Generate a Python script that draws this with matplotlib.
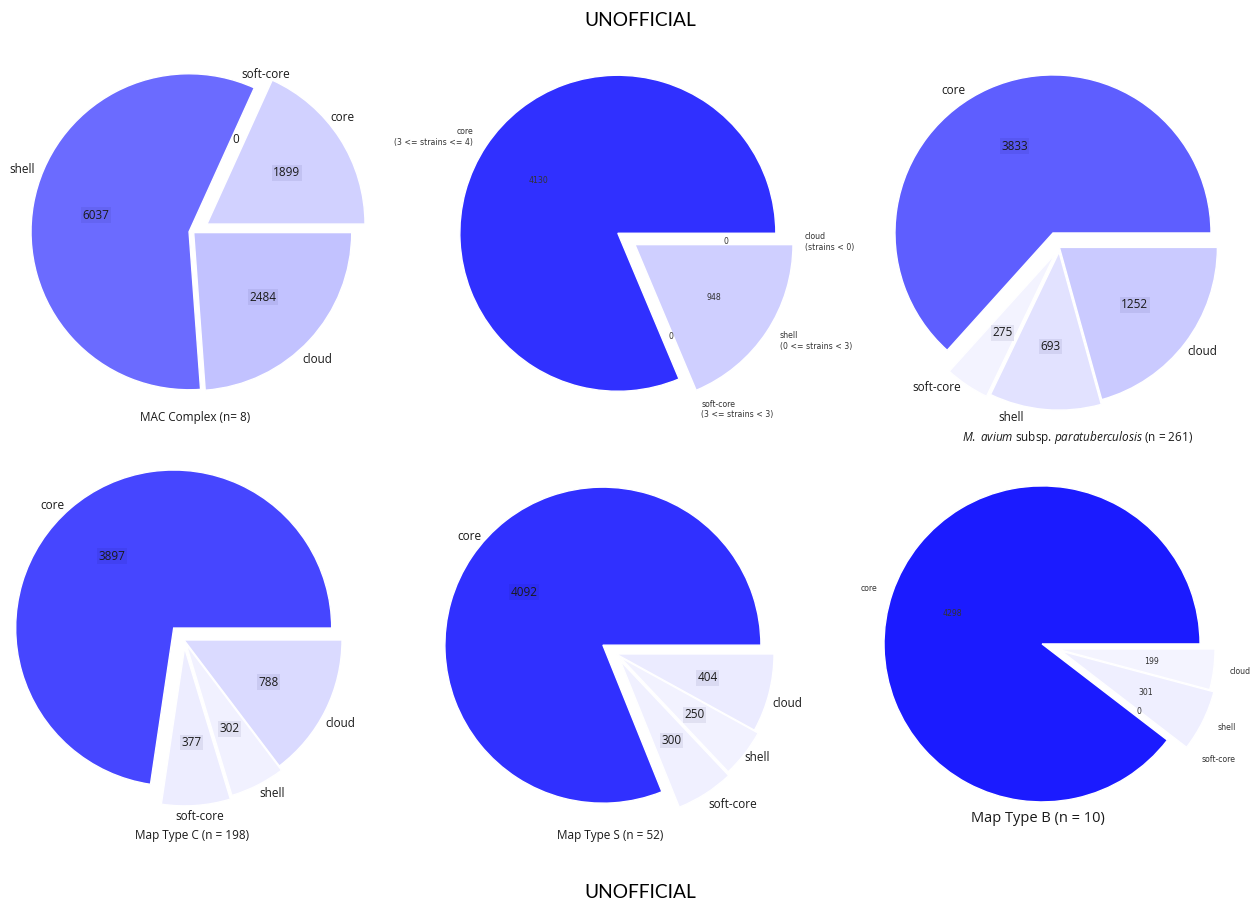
import math
import matplotlib
matplotlib.use("Agg")
import matplotlib.pyplot as plt

# ---- data -------------------------------------------------------------
categories = ["core", "soft-core", "shell", "cloud"]
range_notes = ["(3 <= strains <= 4)", "(3 <= strains < 3)",
               "(0 <= strains < 3)", "(strains < 0)"]

mac_complex = [1899, 0, 6037, 2484]
mac_small = [4130, 0, 948, 0]
map_paratb = [3833, 275, 693, 1252]
map_type_c = [3897, 377, 302, 788]
map_type_s = [4092, 300, 250, 404]
map_type_b = [4298, 0, 301, 199]

title_mac = "MAC Complex (n= 8)"
title_paratb = r"$M.$ $avium$ subsp. $paratuberculosis$ (n = 261)"
title_c = "Map Type C (n = 198)"
title_s = "Map Type S (n = 52)"
title_b = "Map Type B (n = 10)"
banner = "UNOFFICIAL"

# ---- styling ----------------------------------------------------------
W, H = 1260, 901
RADIUS_PX = 158
EXPLODE = [0.1, 0.05, 0.03, 0.0]
SANS = "Open Sans"
INK = "#1a1a1a"
plt.rcParams["mathtext.fontset"] = "custom"
plt.rcParams["mathtext.rm"] = SANS
plt.rcParams["mathtext.it"] = SANS + ":italic"

fig = plt.figure(figsize=(W / 100, H / 100), dpi=100, facecolor="white")


def shade(values):
    total = float(sum(values))
    return [(1 - v / total, 1 - v / total, 1.0) for v in values]


def count_fmt(values):
    total = float(sum(values))
    return lambda p: f"{int(round(p * total / 100))}"


def pie_axes(cx, cy, half=260):
    ax = fig.add_axes([(cx - half) / W, 1 - (cy + half) / H,
                       2 * half / W, 2 * half / H])
    ax.patch.set_visible(False)
    return ax, half / RADIUS_PX


def draw_pie(ax, lim, values, labels, font, size, color, boxed=False,
             label_layout=None):
    colors = shade(values)
    wedges, texts, autotexts = ax.pie(
        values, labels=labels, colors=colors, explode=EXPLODE,
        autopct=count_fmt(values), pctdistance=0.6, labeldistance=1.1,
        startangle=0, counterclock=True,
        wedgeprops=dict(edgecolor="white", linewidth=1.0),
        textprops=dict(fontfamily=font, fontsize=size, color=color))
    if label_layout is not None:
        # centred labels, each turned a little around its wedge
        for w, t, (turn, dist) in zip(wedges, texts, label_layout):
            ang = math.radians((w.theta1 + w.theta2) / 2 + turn)
            cx, cy = w.center
            t.set_position((cx + dist * math.cos(ang),
                            cy + dist * math.sin(ang)))
            t.set_horizontalalignment("center")
    if boxed:
        for at, v, c in zip(autotexts, values, colors):
            if v > 0:
                dark = (c[0] * 0.93, c[1] * 0.93, 0.95)
                at.set_bbox(dict(boxstyle="square,pad=0.12", fc=dark,
                                 ec="none"))
    ax.set_xlim(-lim, lim)
    ax.set_ylim(-lim, lim)
    ax.set_aspect("equal")
    ax.axis("off")


def fig_text(x, y, s, **kw):
    fig.text(x / W, 1 - y / H, s, ha="center", va="center", **kw)


seg = dict(font=SANS, size=8.5, color=INK, boxed=True)
dv = dict(font="DejaVu Sans", size=5.6, color="0.2")

# top row
ax, lim = pie_axes(193.7, 232.6)
draw_pie(ax, lim, mac_complex, categories,
         label_layout=[(5.6, 1.09), (0, 1.05), (-10.3, 1.13), (-3, 1.12)],
         **seg)
fig_text(195, 418, title_mac, fontfamily=SANS, fontsize=8.5, color=INK)

ax, lim = pie_axes(631, 242)
draw_pie(ax, lim, mac_small,
         [f"{c}\n{r}" for c, r in zip(categories, range_notes)], **dv)

ax, lim = pie_axes(1059.4, 247.4)
draw_pie(ax, lim, map_paratb, categories,
         label_layout=[(11, 1.1), (-7.8, 1.13), (-11, 1.09), (1, 1.12)],
         **seg)
fig_text(1078, 437, title_paratb, fontfamily=SANS, fontsize=8.5, color=INK)

# bottom row
ax, lim = pie_axes(184, 640)
draw_pie(ax, lim, map_type_c, categories,
         label_layout=[(3.8, 1.09), (0.8, 1.07), (3, 1.09), (-1.8, 1.12)],
         **seg)
fig_text(192, 836, title_c, fontfamily=SANS, fontsize=8.5, color=INK)

ax, lim = pie_axes(616, 654)
draw_pie(ax, lim, map_type_s, categories,
         label_layout=[(-5.1, 1.09), (5.4, 1.155), (1.6, 1.08), (-1.6, 1.13)],
         **seg)
fig_text(610, 836, title_s, fontfamily=SANS, fontsize=8.5, color=INK)

ax, lim = pie_axes(1057, 649)
draw_pie(ax, lim, map_type_b, categories, **dv)
fig_text(1038, 818, title_b, fontfamily=SANS, fontsize=10.5, color=INK)

# banners
fig_text(640, 21, banner, fontfamily="Lato", fontsize=13.8, color="black")
fig_text(640, 892, banner, fontfamily="Lato", fontsize=13.8, color="black")

fig.savefig("out.png", dpi=100, facecolor="white")
